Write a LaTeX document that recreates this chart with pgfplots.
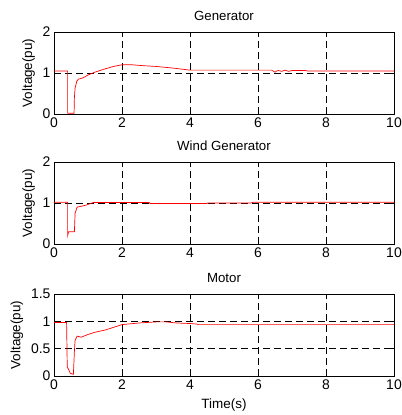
\documentclass[border=0pt]{standalone}
\usepackage{fontspec}
\setmainfont{Liberation Sans}
\usepackage{pgfplots}
\pgfplotsset{compat=1.18}
\definecolor{mred}{RGB}{255,0,0}
\pgfplotsset{
  mstyle/.style={
    scale only axis, width=340bp, height=82bp,
    xmin=0, xmax=10, xtick={0,2,4,6,8,10},
    grid=major,
    major grid style={black, line width=0.6pt, dash pattern=on 7bp off 4bp},
    axis line style={black, line width=0.6pt},
    tick style={black, line width=0.5pt},
    tick align=inside, major tick length=3bp,
    /pgf/number format/assume math mode=true,
    ticklabel style={font=\fontsize{14}{16}\selectfont},
    every axis title/.style={at={(0.5,1)}, anchor=south, yshift=7.5bp, font=\fontsize{13.3}{15}\selectfont},
    ylabel style={font=\fontsize{13.5}{15}\selectfont},
    ylabel shift=1bp,
    xlabel style={font=\fontsize{13.5}{15}\selectfont, yshift=-2.5bp},
    ylabel={Voltage(pu)},
  },
  mline/.style={mred, line width=0.7pt, no marks}
}
\begin{document}
\begin{tikzpicture}
\path[use as bounding box] (0bp,0bp) rectangle (402bp,-415bp);
% Generator
\begin{axis}[mstyle, at={(54bp,-32bp)}, anchor=north west,
  ymin=0, ymax=2, ytick={0,1,2}, title={Generator}]
\addplot[mline] coordinates {
(0,1.05) (0.40,1.05) (0.40,0.02) (0.59,0.02) (0.60,0.40) (0.62,0.63) (0.67,0.80) (0.72,0.85)
(0.85,0.88) (1.0,0.95) (1.2,1.02) (1.5,1.10) (1.75,1.16) (2.0,1.20) (2.3,1.20) (2.6,1.18)
(3.0,1.16) (3.5,1.12) (3.8,1.09) (4.0,1.07) (5.0,1.07) (6.4,1.07) (6.5,1.02) (6.55,1.05) (6.6,1.06) (6.7,1.04)
(6.8,1.07) (6.9,1.04) (7.0,1.06) (7.4,1.06) (7.45,1.05) (10,1.05)
};
\end{axis}
% Wind generator
\begin{axis}[mstyle, at={(54bp,-162bp)}, anchor=north west,
  ymin=0, ymax=2, ytick={0,1,2}, title={Wind Generator}]
\addplot[mline] coordinates {
(0,1.02) (0.40,1.02) (0.40,0.20) (0.43,0.30) (0.60,0.30) (0.62,0.75) (0.68,0.90)
(0.8,0.92) (0.95,0.95) (1.05,0.98) (1.15,1.01) (2.8,1.01) (2.82,0.99) (4.5,0.99) (4.52,1.0)
(5.8,1.0) (5.85,1.02) (10,1.02)
};
\end{axis}
% Motor
\begin{axis}[mstyle, at={(54bp,-294bp)}, anchor=north west,
  ymin=0, ymax=1.5, ytick={0,0.5,1,1.5}, title={Motor}, xlabel={Time(s)}]
\addplot[mline] coordinates {
(0,0.98) (0.37,0.98) (0.39,0.16) (0.43,0.12) (0.48,0.05) (0.57,0.03) (0.60,0.45) (0.62,0.65)
(0.68,0.73) (0.8,0.71) (1.0,0.76) (1.2,0.80) (1.5,0.84) (1.75,0.89) (2.0,0.94) (2.5,0.97)
(3.0,0.99) (3.3,0.99) (3.6,0.97) (4.0,0.96) (4.2,0.95) (4.25,0.94) (10,0.94)
};
\end{axis}
\end{tikzpicture}
\end{document}
